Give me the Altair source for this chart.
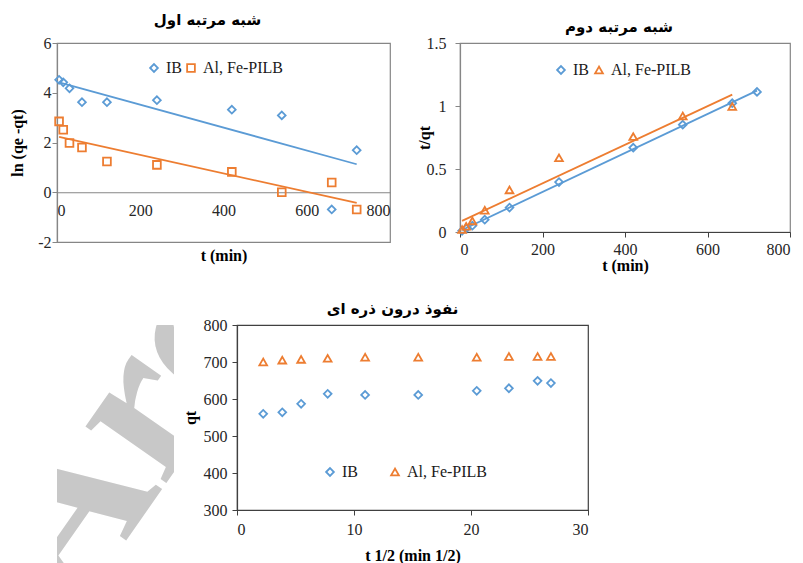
import altair as alt
import pandas as pd

# ---------------- data ----------------
series = ["IB", "Al, Fe-PILB"]
colors = ["#5B9BD5", "#ED7D31"]

titles = ["شبه مرتبه اول", "شبه مرتبه دوم", "نفوذ درون ذره ای"]

t_min = [5, 15, 30, 60, 120, 240, 420, 540, 660, 720]

# pseudo-first-order : ln(qe - qt) vs t
ln_ib = [4.52, 4.42, 4.18, 3.62, 3.62, 3.70, 3.32, 3.09, -0.69, 1.69]
ln_alfe = [2.85, 2.51, 1.98, 1.80, 1.24, 1.10, 0.82, 0.00, 0.39, -0.69]

# pseudo-second-order : t/qt vs t
t2_alfe = [5, 15, 30, 60, 120, 240, 420, 540, 660]
tq_ib = [0.009, 0.027, 0.05, 0.098, 0.194, 0.396, 0.669, 0.852, 1.022, 1.112]
tq_alfe = [0.02, 0.045, 0.088, 0.173, 0.334, 0.589, 0.757, 0.921, 0.996]

# intra-particle diffusion : qt vs t^1/2
sqrt_t = [2.24, 3.87, 5.48, 7.75, 10.95, 15.49, 20.49, 23.24, 25.69, 26.83]
qt_ib = [560, 564, 587, 614, 611, 611, 622, 629, 649, 643]
qt_alfe = [700, 705, 707, 710, 713, 713, 713, 715, 715, 715]

# ---------------- styling ----------------
SERIF = "Liberation Serif"
ARABIC = "DejaVu Sans"
LBL = "#262626"
GRAY = "#868686"
DARK = "#404040"
HYPHEN_MINUS = "replace(datum.label, '\u2212', '-')"


def frame(xs, ys_a, ys_b):
    return pd.DataFrame({
        "x": list(xs[0]) + list(xs[1]),
        "y": list(ys_a) + list(ys_b),
        "s": [series[0]] * len(ys_a) + [series[1]] * len(ys_b),
    })


df1 = frame((t_min, t_min), ln_ib, ln_alfe)
df2 = frame((t_min, t2_alfe), tq_ib, tq_alfe)
df3 = frame((sqrt_t, sqrt_t), qt_ib, qt_alfe)


def legend(lx, ly, colpad):
    return alt.Legend(orient="none", legendX=lx, legendY=ly, direction="horizontal",
                      title=None, labelFont=SERIF, labelFontSize=16, labelColor="#1a1a1a",
                      symbolSize=60, symbolStrokeWidth=1.8, columnPadding=colpad,
                      padding=0, labelOffset=4)


def axis(values, title, dom_color, **kw):
    return alt.Axis(values=values, title=title, grid=False, domainColor=dom_color,
                    domainWidth=1.2, tickColor=dom_color, tickSize=5,
                    labelFont=SERIF, labelFontSize=16, labelColor=LBL,
                    titleFont=SERIF, titleFontSize=16, titleFontWeight="bold",
                    titleColor="black", titleBaseline="middle", **kw)


def panel(df, shapes, xdom, ydom, xax, yax, leg, trend, title, w, h, stroke):
    cscale = alt.Scale(domain=series, range=colors)
    x = alt.X("x:Q", scale=alt.Scale(domain=xdom, nice=False, zero=False), axis=xax)
    y = alt.Y("y:Q", scale=alt.Scale(domain=ydom, nice=False, zero=False), axis=yax)
    base = alt.Chart(df)
    layers = []
    if trend:
        layers.append(
            base.transform_regression("x", "y", groupby=["s"])
            .mark_line(strokeWidth=1.8)
            .encode(x=x, y=y, stroke=alt.Stroke("s:N", scale=cscale, legend=None))
        )
    layers.append(
        base.mark_point(filled=False, size=60, strokeWidth=1.8, opacity=1).encode(
            x=x, y=y,
            color=alt.Color("s:N", scale=cscale, legend=leg),
            shape=alt.Shape("s:N", scale=alt.Scale(domain=series, range=shapes), legend=leg),
        )
    )
    return alt.layer(*layers).properties(
        width=w, height=h, title=title,
        view=alt.ViewBackground(stroke=stroke, strokeWidth=1.2),
    )


def ttl(text, offset, dx):
    return alt.TitleParams(text, font=ARABIC, fontSize=15, fontWeight="bold",
                           color="black", anchor="middle", offset=offset, dx=dx)


p1 = panel(
    df1, ["diamond", "square"], [0, 800], [-2, 6],
    axis([0, 200, 400, 600, 800], "t (min)", GRAY, offset=-49.75, ticks=False,
         labelPadding=10, titleY=63),
    axis([-2, 0, 2, 4, 6], "ln (qe -qt)", GRAY, labelPadding=1, titleX=-40,
         labelExpr=HYPHEN_MINUS),
    legend(89, 17, 1), True, ttl(titles[0], 7, -16), 333, 199, GRAY,
)

p2 = panel(
    df2, ["diamond", "triangle-up"], [0, 800], [0, 1.5],
    axis([0, 200, 400, 600, 800], "t (min)", DARK, labelPadding=4, labelFlush=True,
         titleY=33),
    axis([0, 0.5, 1, 1.5], "t/qt", GRAY, labelPadding=9, format="~g", titleX=-36),
    legend(93, 19, 2), True, ttl(titles[1], 0, -6), 330, 189, GRAY,
)

p3 = panel(
    df3, ["diamond", "triangle-up"], [0, 30], [300, 800],
    axis([0, 10, 20, 30], "t 1/2 (min 1/2)", DARK, labelPadding=6, titleY=45),
    axis([300, 400, 500, 600, 700, 800], "qt", DARK, labelPadding=5, titleX=-47),
    legend(85, 139, 29), False, ttl(titles[2], 0, -20), 351, 185, DARK,
)

dummy = pd.DataFrame({"v": [0]})
no_frame = alt.ViewBackground(stroke="transparent")

spacer = (alt.Chart(dummy).mark_point(opacity=0)
          .encode(x=alt.value(0), y=alt.value(0))
          .properties(width=63, height=10, view=no_frame))

# faint "Archive" watermark seen at the lower left of the reference
watermark = (alt.Chart(dummy)
             .mark_text(text="Arc", font=SERIF, fontSize=215, fontWeight="bold",
                        color="#C8C8C8", angle=305, align="left",
                        baseline="alphabetic", clip=True)
             .encode(x=alt.value(17), y=alt.value(290))
             .properties(width=117, height=238, view=no_frame))

indep = dict(color="independent", shape="independent")

row1 = alt.hconcat(p1, p2, spacing=70, bounds="flush").resolve_scale(**indep)
row2 = alt.hconcat(watermark, spacer, p3, spacing=0, bounds="flush").resolve_scale(**indep)

chart = (alt.concat(row1, row2, columns=1, spacing=27, bounds="full")
         .resolve_scale(**indep)
         .properties(padding={"left": 0, "top": 4, "right": 0, "bottom": 0},
                     background="white"))

chart.save("out.html", embed_options={"renderer": "svg", "actions": False})
